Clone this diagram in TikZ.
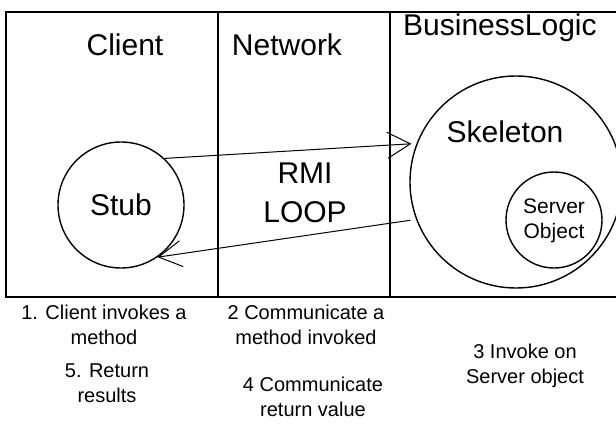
\documentclass[tikz,border=0pt]{standalone}
\usepackage{fontspec}
\setmainfont{Liberation Sans}
\usetikzlibrary{arrows.meta}
\begin{document}
\begin{tikzpicture}[x=1pt,y=-1pt,
  frame/.style={line width=2pt},
  ball/.style={circle,draw,line width=1.4pt,inner sep=0pt},
  big/.style={font=\fontsize{30}{34}\selectfont,inner sep=0pt,anchor=base},
  mid/.style={font=\fontsize{21}{25}\selectfont,align=center,inner sep=0pt},
  note/.style={font=\fontsize{20}{25}\selectfont,align=center,inner sep=0pt,anchor=base},
  call/.style={line width=1pt,-{Straight Barb[length=23pt,width=26pt,line width=1pt]}}]
\useasboundingbox (0,0) rectangle (616,426);
\clip (0,0) rectangle (616,426);

% three tiers of the RMI system
\draw[frame] (6,12) rectangle (640,296.5);
\draw[frame] (218,12) -- (218,296.5);
\draw[frame] (390,12) -- (390,296.5);

\node[big] (client) at (125,55) {Client};
\node[big] (network) at (287,55) {Network};
\node[big,anchor=base west] (logic) at (403,35) {BusinessLogic};

% client side proxy
\node[ball,minimum size=126pt] (stub) at (121,205) {};
\node[big] (stubtxt) at (121,215) {Stub};

% server side
\node[ball,minimum size=212pt] (skel) at (516,182) {};
\node[big] (skeltxt) at (505,142) {Skeleton};
\node[ball,minimum size=96pt] (srv) at (554,220) {};
\node[mid] (srvtxt) at (554,221) {Server\\Object};

% the loop through the network
\node[big] (rmi) at (305,183) {RMI};
\node[big] (loop) at (305,222) {LOOP};

\draw[call] (stub.47) -- ([xshift=-5pt]skel.159);
\draw[call] ([xshift=-6pt]skel.201) -- (stub.-55);

% the steps of a remote call
\node[note] (s1) at (104,344) {1. Client invokes a\\method};
\node[note] (s2) at (306,344) {2 Communicate a\\method invoked};
\node[note] (s3) at (525,383) {3 Invoke on\\Server object};
\node[note] (s4) at (313,416) {4 Communicate\\return value};
\node[note] (s5) at (107,402) {5. Return\\results};
\end{tikzpicture}
\end{document}
